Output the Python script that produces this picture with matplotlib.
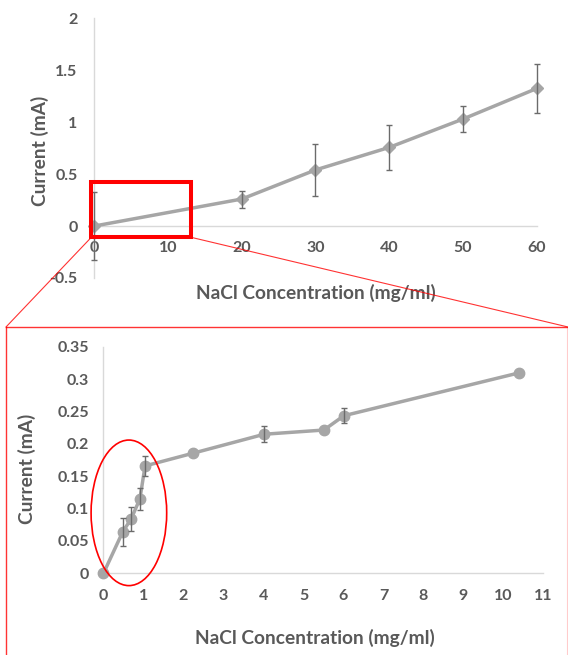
import numpy as np
import matplotlib
matplotlib.use("Agg")
import matplotlib.pyplot as plt
from matplotlib.patches import Rectangle, Ellipse, ConnectionPatch
from matplotlib.lines import Line2D
from matplotlib.ticker import MultipleLocator, FuncFormatter

# full range (top chart)
top_conc = [0, 20, 30, 40, 50, 60]
top_current = [0.0, 0.26, 0.54, 0.757, 1.03, 1.324]
top_err = [0.33, 0.082, 0.254, 0.216, 0.125, 0.239]

# low range (zoomed chart)
low_conc = [0, 0.48, 0.69, 0.91, 1.04, 2.23, 4.02, 5.51, 6.01, 10.4]
low_current = [0.0, 0.064, 0.084, 0.115, 0.166, 0.1855, 0.215, 0.2215, 0.2436, 0.310]
low_err = [None, 0.0215, 0.019, 0.0175, 0.0155, None, 0.0125, None, 0.012, None]

x_label = "NaCl Concentration (mg/ml)"
y_label = "Current (mA)"

TEXT = "#595959"
AXIS = "#d9d9d9"
LINE = "#a6a6a6"
ERR = "#6b6b6b"
RED = "#ff0000"

plt.rcParams['font.family'] = ['Lato', 'DejaVu Sans']
plt.rcParams['font.weight'] = 'bold'


def fmt(v, pos):
    return '{:g}'.format(round(v, 3))


def style_axes(ax, pad_x, pad_y):
    for s in ['top', 'right']:
        ax.spines[s].set_visible(False)
    ax.spines['left'].set_color(AXIS)
    ax.spines['bottom'].set_color(AXIS)
    ax.spines['left'].set_linewidth(1.0)
    ax.spines['bottom'].set_linewidth(1.0)
    ax.spines['bottom'].set_position(('data', 0))
    ax.tick_params(axis='x', length=0, pad=pad_x, labelsize=11.5, labelcolor=TEXT)
    ax.tick_params(axis='y', length=0, pad=pad_y, labelsize=11.5, labelcolor=TEXT)
    ax.yaxis.set_major_formatter(FuncFormatter(fmt))
    ax.xaxis.set_major_formatter(FuncFormatter(fmt))


def draw_series(ax, x, y, err, marker, ms):
    ax.plot(x, y, color=LINE, lw=2.5, marker=marker, ms=ms,
            mfc=LINE, mec=LINE, zorder=3, clip_on=False)
    e = np.array([np.nan if v is None else v for v in err], dtype=float)
    ax.errorbar(x, y, yerr=e, fmt='none', ecolor=ERR, elinewidth=1.0,
                capsize=2.3, capthick=1.0, zorder=4, clip_on=False)


fig = plt.figure(figsize=(5.68, 6.55), dpi=100)

# top chart
ax1 = fig.add_axes([0.166, 0.5756, 0.7789, 0.3965])
draw_series(ax1, top_conc, top_current, top_err, 'D', 6.5)
ax1.set_xlim(0, 60)
ax1.set_ylim(-0.5, 2)
ax1.xaxis.set_major_locator(MultipleLocator(10))
ax1.yaxis.set_major_locator(MultipleLocator(0.5))
style_axes(ax1, 11, 12)
ax1.set_xlabel(x_label, fontsize=13.8, color=TEXT, fontweight='bold')
ax1.xaxis.set_label_coords(0.5, -0.059)
ax1.xaxis.label.set_va('center')
ax1.set_ylabel(y_label, fontsize=13.8, color=TEXT, fontweight='bold')
ax1.yaxis.set_label_coords(-0.1227, 0.489)
ax1.yaxis.label.set_va('center')

# zoom region marked on the top chart
zoom_x = (-0.41, 13.16)
zoom_y = (-0.109, 0.423)
ax1.add_patch(Rectangle((zoom_x[0], zoom_y[0]), zoom_x[1] - zoom_x[0],
                        zoom_y[1] - zoom_y[0], fill=False, ec=RED, lw=2.9,
                        clip_on=False, zorder=6))

# bottom chart
ax2 = fig.add_axes([0.1822, 0.1247, 0.7746, 0.3457])
draw_series(ax2, low_conc, low_current, low_err, 'o', 7.5)
ax2.set_xlim(0, 11)
ax2.set_ylim(0, 0.35)
ax2.xaxis.set_major_locator(MultipleLocator(1))
ax2.yaxis.set_major_locator(MultipleLocator(0.05))
style_axes(ax2, 11, 10.5)
ax2.set_xlabel(x_label, fontsize=13.8, color=TEXT, fontweight='bold')
ax2.xaxis.set_label_coords(0.48, -0.286)
ax2.xaxis.label.set_va('center')
ax2.set_ylabel(y_label, fontsize=13.8, color=TEXT, fontweight='bold')
ax2.yaxis.set_label_coords(-0.1745, 0.463)
ax2.yaxis.label.set_va('center')

ax2.add_patch(Ellipse((0.635, 0.0935), 1.89, 0.225, fill=False, ec=RED,
                      lw=1.2, clip_on=False, zorder=6))

# frame around the zoomed chart and the connecting lines
box_l = 6 / 568
box_t = 1 - 327 / 655
fig.add_artist(Line2D([box_l, box_l], [box_t, 0], color=RED, lw=1.0, alpha=0.8))
fig.add_artist(Line2D([box_l, 1], [box_t, box_t], color=RED, lw=1.0, alpha=0.8))
fig.add_artist(Line2D([0.9975, 0.9975], [box_t, 0], color=RED, lw=0.8, alpha=0.2))

for cx, bx in [(zoom_x[0], box_l), (zoom_x[1], 1.0)]:
    con = ConnectionPatch(xyA=(cx, zoom_y[0]), coordsA=ax1.transData,
                          xyB=(bx, box_t), coordsB=fig.transFigure,
                          color=RED, lw=0.8, alpha=0.8, zorder=5)
    fig.add_artist(con)

fig.savefig("out.png", dpi=100)
